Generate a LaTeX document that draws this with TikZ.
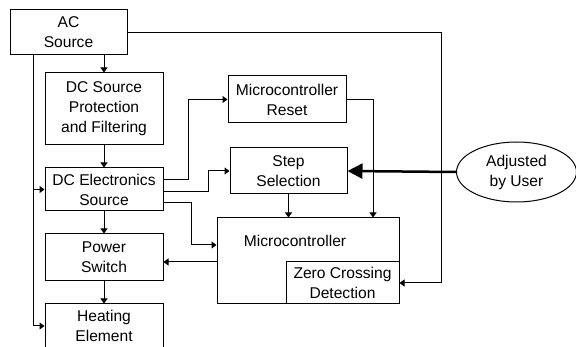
\documentclass[tikz,border=0pt]{standalone}
\usepackage{fontspec}
\setmainfont{Liberation Sans}
\usetikzlibrary{arrows.meta,shapes.geometric}
\begin{document}
\begin{tikzpicture}[x=1pt,y=-1pt,
  every node/.style={font=\fontsize{15.6}{20}\selectfont, align=center, inner sep=0pt},
  blk/.style={draw, line width=1pt, rectangle},
  ln/.style={line width=1pt},
  arr/.style={ln, -{Triangle[length=5pt,width=7pt]}},
  bigarr/.style={line width=2.5pt, -{Triangle[length=15pt,width=15pt]}}]
\useasboundingbox (0,0) rectangle (576,347);
\clip (0,0) rectangle (576,347);
% blocks
\node[blk, minimum width=117pt, minimum height=45pt] (ac) at (68.5,32.5) {AC\\Source};
\node[blk, minimum width=118pt, minimum height=72pt] (dcp) at (104,109) {DC Source\\Protection\\and Filtering};
\node[blk, minimum width=118pt, minimum height=43pt] (dce) at (104,189.5) {DC Electronics\\Source};
\node[blk, minimum width=118pt, minimum height=47pt] (ps) at (104,257.5) {Power\\Switch};
\node[blk, minimum width=118pt, minimum height=44pt] (he) at (104,326) {Heating\\Element};
\node[blk, minimum width=118pt, minimum height=47pt] (mr) at (287,99.5) {Microcontroller\\Reset};
\node[blk, minimum width=117pt, minimum height=46pt] (ss) at (288.5,171) {Step\\Selection};
\node[blk, minimum width=182pt, minimum height=86pt] (mc) at (308,261) {};
\node (mct) at (295,241) {Microcontroller};
\node[blk, minimum width=113pt, minimum height=42pt] (zc) at (342.5,283) {Zero Crossing\\Detection};
\node[draw, ellipse, line width=1pt, minimum width=120pt, minimum height=60pt] (user) at (516.5,172) {Adjusted\\by User};
% connectors
\coordinate (acr) at (441,283);
\draw[arr] (ac.east) -| (acr) -- (zc.east);
\draw[arr] (ac.south -| dcp.north) -- (dcp.north);
\draw[arr] (ac.south -| 33,0) |- (he.west);
\draw[arr] (dce.west -| 33,0) -- (dce.west);
\draw[arr] (dcp.south) -- (dce.north);
\draw[arr] (dce.south) -- (ps.north);
\draw[arr] (ps.south) -- (he.north);
\coordinate (j1) at (188,180);
\draw[arr] (dce.east |- j1) -- (j1) |- (mr.west);
\coordinate (j2) at (208,192);
\draw[arr] (dce.east |- j2) -- (j2) |- (ss.west);
\coordinate (j3) at (191,203);
\coordinate (j3b) at (191,245);
\draw[arr] (dce.east |- j3) -- (j3) -- (j3b) -- (mc.west |- j3b);
\coordinate (j4) at (217,262);
\draw[arr] (j4) -- (ps.east |- j4);
\draw[arr] (ss.south) -- (ss.south |- mc.north);
\coordinate (j5) at (373,99.5);
\draw[arr] (mr.east) -- (j5) -- (j5 |- mc.north);
\draw[bigarr] (user.west) -- (ss.east);
\end{tikzpicture}
\end{document}
